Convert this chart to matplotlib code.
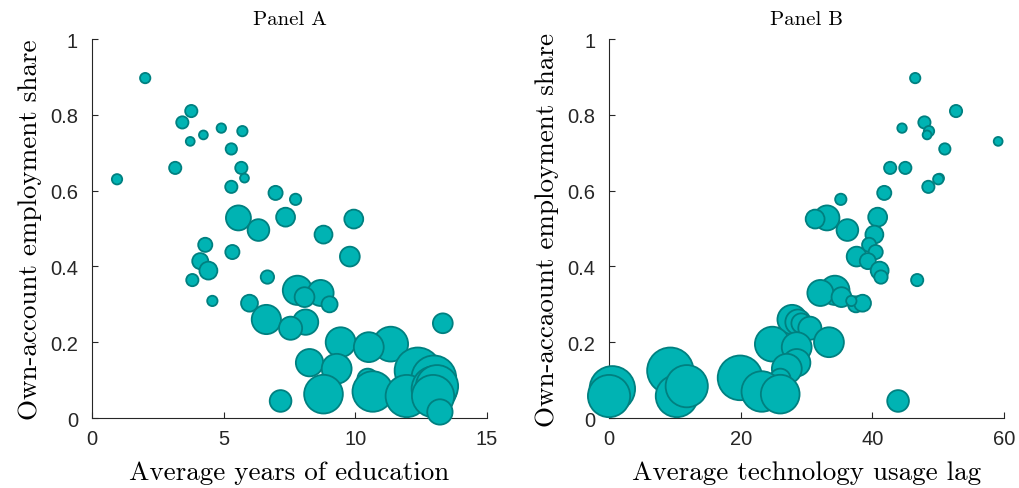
import numpy as np
import matplotlib
matplotlib.use("Agg")
from matplotlib import pyplot as plt

# Country-level data: education, technology lag, own-account share, labour force weight
years_education = [2.02, 3.77, 3.43, 4.91, 5.71, 4.23, 3.73, 5.29, 5.67, 3.16,
                   5.79, 0.95, 5.29, 6.97, 7.73, 5.56, 7.35, 9.94, 6.32, 8.79,
                   4.30, 5.33, 9.79, 4.11, 4.42, 6.66, 3.81, 7.80, 8.68, 8.07,
                   9.02, 5.98, 4.57, 6.62, 8.11, 13.32, 7.54, 9.44, 11.34, 10.51,
                   8.26, 9.29, 12.37, 12.98, 10.47, 10.66, 11.95, 13.00, 13.10, 12.95,
                   8.79, 7.16, 13.21]
tech_lag = [46.5, 52.7, 47.9, 44.5, 48.6, 48.3, 59.1, 51.0, 42.7, 45.0,
            50.2, 50.0, 48.5, 41.8, 35.2, 33.1, 40.8, 31.3, 36.2, 40.3,
            39.5, 40.5, 37.6, 39.3, 41.1, 41.3, 46.8, 34.3, 32.1, 35.3,
            37.5, 38.5, 36.8, 27.8, 28.7, 29.2, 30.5, 33.4, 24.8, 28.5,
            28.5, 27.0, 9.3, 19.9, 26.0, 23.2, 10.3, 0.5, 11.8, 0.0,
            26.0, 43.9, np.nan]  # last country has no lag estimate
own_account_share = [0.897, 0.810, 0.780, 0.765, 0.757, 0.747, 0.730, 0.710, 0.660, 0.660,
                     0.633, 0.630, 0.610, 0.594, 0.577, 0.528, 0.530, 0.525, 0.496, 0.484,
                     0.457, 0.438, 0.426, 0.414, 0.389, 0.372, 0.364, 0.337, 0.330, 0.319,
                     0.300, 0.303, 0.309, 0.260, 0.253, 0.250, 0.237, 0.200, 0.195, 0.187,
                     0.146, 0.130, 0.125, 0.106, 0.103, 0.070, 0.058, 0.077, 0.084, 0.058,
                     0.063, 0.045, 0.016]
labor_force = [30, 42, 42, 25, 30, 22, 22, 36, 42, 42,
               22, 30, 42, 56, 36, 175, 100, 100, 132, 90,
               56, 56, 110, 72, 90, 50, 42, 240, 190, 110,
               72, 80, 30, 240, 180, 110, 150, 250, 340, 250,
               210, 250, 600, 560, 120, 460, 500, 580, 500, 500,
               420, 132, 180]

panel_titles = ["Panel A", "Panel B"]
x_labels = ["Average years of education", "Average technology usage lag"]
y_labels = ["Own-account employment share", "Own-accaount employment share"]
x_limits = [(0, 15), (0, 60)]
x_ticks = [[0, 5, 10, 15], [0, 20, 40, 60]]
y_ticks = [0, 0.2, 0.4, 0.6, 0.8, 1]

face = "#00b3b3"
edge = "#008080"
axis_color = "#262626"
serif = "cmr10"

fig = plt.figure(figsize=(10.2, 4.89), dpi=100)
ax_a = fig.add_axes([0.0902, 0.1431, 0.3873, 0.775])
ax_b = fig.add_axes([0.5971, 0.1431, 0.3873, 0.775])

sizes = np.array(labor_force) * 1.85
xs = [years_education, tech_lag]

for i, ax in enumerate([ax_a, ax_b]):
    ax.scatter(xs[i], own_account_share, s=sizes, c=face, edgecolors=edge,
               linewidths=1.3, clip_on=False, zorder=3)
    ax.set_xlim(*x_limits[i])
    ax.set_ylim(0, 1)
    ax.set_xticks(x_ticks[i])
    ax.set_xticklabels([str(t) for t in x_ticks[i]])
    ax.set_yticks(y_ticks)
    ax.set_yticklabels(["0", "0.2", "0.4", "0.6", "0.8", "1"])
    for side in ["top", "right"]:
        ax.spines[side].set_visible(False)
    for side in ["left", "bottom"]:
        ax.spines[side].set_color(axis_color)
        ax.spines[side].set_linewidth(0.8)
    ax.tick_params(direction="in", length=4, width=0.8, color=axis_color,
                   labelsize=14.5, labelcolor=axis_color)
    ax.tick_params(axis="x", pad=8)
    ax.tick_params(axis="y", pad=10)
    for lab in ax.get_xticklabels() + ax.get_yticklabels():
        lab.set_family("Liberation Sans")
    ax.set_title(panel_titles[i], family=serif, fontsize=15, pad=11)
    ax.set_xlabel(x_labels[i], family=serif, fontsize=19.5, labelpad=9)
    ax.set_ylabel(y_labels[i], family=serif, fontsize=19.5, labelpad=6)

fig.savefig("out.png", dpi=100)
